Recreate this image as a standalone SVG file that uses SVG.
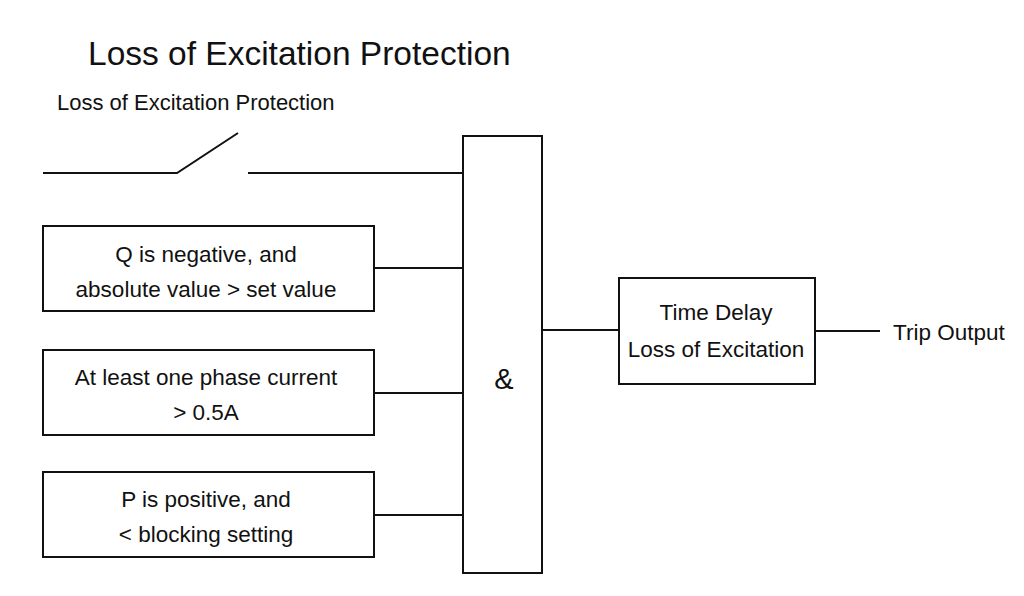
<svg xmlns="http://www.w3.org/2000/svg" width="1024" height="596" viewBox="0 0 1024 596">
<style>
.b{fill:#fff;stroke:#111;stroke-width:2}
.l{stroke:#111;stroke-width:2;fill:none}
text{font-family:"Liberation Sans",Arial,sans-serif;fill:#111;font-size:22.5px}
.c{text-anchor:middle}
</style>
<rect width="1024" height="596" fill="#fff"/>
<text x="88" y="65" style="font-size:33.5px">Loss of Excitation Protection</text>
<text x="57" y="110" style="font-size:22px">Loss of Excitation Protection</text>
<g id="connectors">
<path class="l" d="M43 173H177L238 133M248 173H463"/>
<path class="l" d="M374 268H463M374 393H463M374 515H463M542 330H619M815 331H880"/>
</g>
<g id="n1"><rect class="b" x="43" y="226" width="331" height="85"/>
<text class="c" x="206" y="262">Q is negative, and</text><text class="c" x="206" y="297">absolute value &gt; set value</text></g>
<g id="n2"><rect class="b" x="43" y="350" width="331" height="85"/>
<text class="c" x="206" y="385">At least one phase current</text><text class="c" x="206" y="420">&gt; 0.5A</text></g>
<g id="n3"><rect class="b" x="43" y="472" width="331" height="85"/>
<text class="c" x="206" y="507">P is positive, and</text><text class="c" x="206" y="542">&lt; blocking setting</text></g>
<g id="and"><rect class="b" x="463" y="136" width="79" height="437"/>
<text class="c" x="504" y="389" style="font-size:29px">&amp;</text></g>
<g id="delay"><rect class="b" x="619" y="278" width="196" height="106"/>
<text class="c" x="716" y="320">Time Delay</text><text class="c" x="716" y="357">Loss of Excitation</text></g>
<g id="out"><text x="893" y="340">Trip Output</text></g>
</svg>
